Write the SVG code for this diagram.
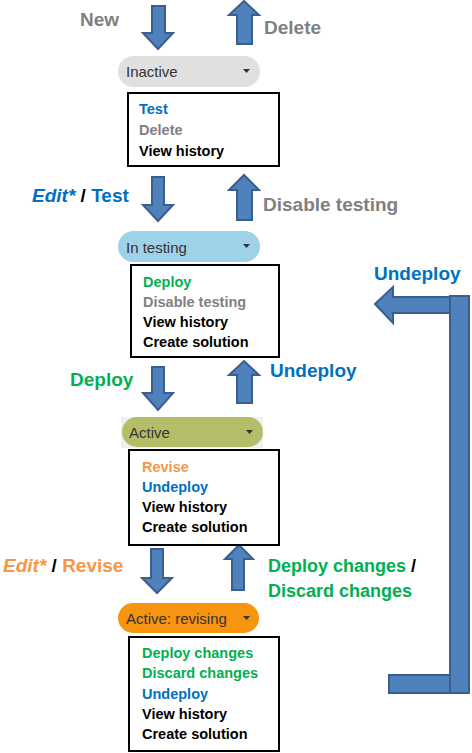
<svg xmlns="http://www.w3.org/2000/svg" width="472" height="753" viewBox="0 0 472 753">
<style>
.arr{fill:#4f81bd;stroke:#3a5f8e;stroke-width:2;stroke-linejoin:miter}
.lbl{font-family:"Liberation Sans",Arial,sans-serif;font-weight:bold;font-size:19px}
.lbl.sm{font-size:18px}
.item{font-family:"Liberation Sans",Arial,sans-serif;font-weight:bold;font-size:14.5px}
.pilltxt{font-family:"Liberation Sans",Arial,sans-serif;font-size:15px;fill:#333333}
.box{fill:#ffffff;stroke:#000000;stroke-width:2}
.gray{fill:#808080}.blue{fill:#0070c0}.green{fill:#00b050}.orange{fill:#f79646}.black{fill:#000000}
.tri{fill:#333333}
</style>
<rect width="472" height="753" fill="#ffffff"/>
<g id="connectors">
  <polygon class="arr" points="152,6 165,6 165,33 173,33 158,49 143,33 152,33"/>
  <polygon class="arr" points="244,1 259,15 252,15 252,44 237,44 237,15 229,15"/>
  <polygon class="arr" points="152,177 164,177 164,205 173,205 158,221 143,205 152,205"/>
  <polygon class="arr" points="244,175 259,190 252,190 252,220 237,220 237,190 229,190"/>
  <polygon class="arr" points="152,367 164,367 164,393 173,393 158,410 143,393 152,393"/>
  <polygon class="arr" points="244,361 259,375 252,375 252,403 237,403 237,375 229,375"/>
  <polygon class="arr" points="151,549 163,549 163,578 172,578 157,593 142,578 151,578"/>
  <polygon class="arr" points="239,545 253,559 244,559 244,590 232,590 232,559 225,559"/>
  <rect class="arr" x="389" y="675" width="80" height="18"/>
  <rect class="arr" x="450" y="296" width="19" height="397"/>
  <polygon class="arr" points="375,304 393,287 393,297 450,297 450,313 393,313 393,323"/>
  <text class="lbl gray" x="80" y="26">New</text>
  <text class="lbl gray" x="264" y="34">Delete</text>
  <text class="lbl" x="32" y="202"><tspan class="blue" font-style="italic">Edit*</tspan><tspan class="black"> / </tspan><tspan class="blue">Test</tspan></text>
  <text class="lbl gray" x="263" y="211">Disable testing</text>
  <text class="lbl blue" x="374" y="280">Undeploy</text>
  <text class="lbl green" x="70" y="386">Deploy</text>
  <text class="lbl blue" x="270" y="377">Undeploy</text>
  <text class="lbl" x="3" y="572"><tspan class="orange" font-style="italic">Edit*</tspan><tspan class="black"> / </tspan><tspan class="orange">Revise</tspan></text>
  <text class="lbl sm" x="268" y="572"><tspan class="green">Deploy changes </tspan><tspan class="black">/</tspan></text>
  <text class="lbl sm green" x="268" y="597">Discard changes</text>
</g>
<g id="inactive">
  <rect x="118" y="56" width="142" height="31" rx="15.5" fill="#e0e0e0"/>
  <text class="pilltxt" x="126" y="77">Inactive</text>
  <polygon class="tri" points="243,69 250,69 246.5,73"/>
  <rect class="box" x="128" y="93" width="151" height="73"/>
  <text class="item blue" x="139" y="114">Test</text>
  <text class="item gray" x="139" y="135">Delete</text>
  <text class="item black" x="139" y="156">View history</text>
</g>
<g id="in-testing">
  <rect x="118" y="231" width="142" height="31" rx="15.5" fill="#9ed2e9"/>
  <text class="pilltxt" x="126" y="253">In testing</text>
  <polygon class="tri" points="243,244 250,244 246.5,248"/>
  <rect class="box" x="131" y="265" width="148" height="92"/>
  <text class="item green" x="143" y="287">Deploy</text>
  <text class="item gray" x="143" y="307">Disable testing</text>
  <text class="item black" x="143" y="327">View history</text>
  <text class="item black" x="143" y="347">Create solution</text>
</g>
<g id="active">
  <rect x="121" y="417" width="142" height="31" fill="#f0f0f0"/>
  <rect x="122" y="417" width="141" height="30" rx="15" fill="#b5bd68"/>
  <text class="pilltxt" x="129" y="438">Active</text>
  <polygon class="tri" points="246,430 253,430 249.5,434"/>
  <rect class="box" x="129" y="450" width="150" height="95"/>
  <text class="item orange" x="142" y="472">Revise</text>
  <text class="item blue" x="142" y="492">Undeploy</text>
  <text class="item black" x="142" y="512">View history</text>
  <text class="item black" x="142" y="532">Create solution</text>
</g>
<g id="active-revising">
  <rect x="118" y="603" width="141" height="30" rx="15" fill="#f79410"/>
  <text class="pilltxt" x="126" y="624">Active: revising</text>
  <polygon class="tri" points="243,616 250,616 246.5,620"/>
  <rect class="box" x="129" y="637" width="150" height="114"/>
  <text class="item green" x="142" y="658">Deploy changes</text>
  <text class="item green" x="142" y="678">Discard changes</text>
  <text class="item blue" x="142" y="699">Undeploy</text>
  <text class="item black" x="142" y="719">View history</text>
  <text class="item black" x="142" y="739">Create solution</text>
</g>
</svg>
